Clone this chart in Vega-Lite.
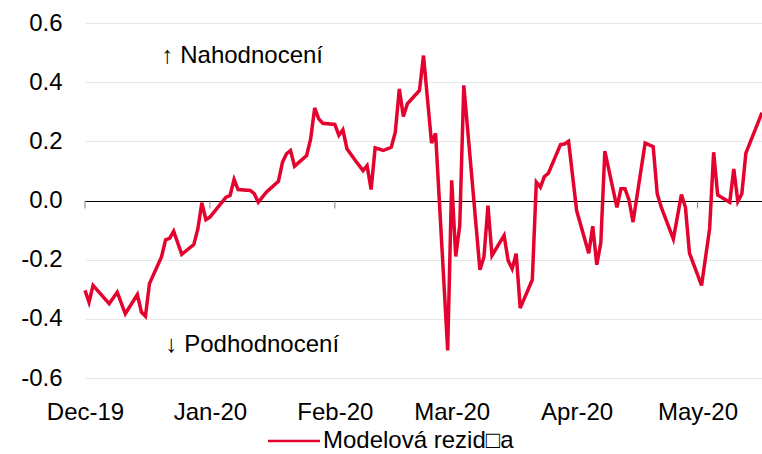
{
  "$schema": "https://vega.github.io/schema/vega-lite/v6.json",
  "width": 677,
  "height": 355,
  "autosize": {"type": "none"},
  "padding": {"left": 85, "top": 23, "right": 0, "bottom": 76},
  "config": {"font": "Liberation Sans", "view": {"stroke": null}},
  "datasets": {
    "series": [
      {"date": "2019-12-01", "value": -0.304},
      {"date": "2019-12-02", "value": -0.344},
      {"date": "2019-12-03", "value": -0.287},
      {"date": "2019-12-07", "value": -0.349},
      {"date": "2019-12-09", "value": -0.31},
      {"date": "2019-12-11", "value": -0.383},
      {"date": "2019-12-14", "value": -0.318},
      {"date": "2019-12-15", "value": -0.377},
      {"date": "2019-12-16", "value": -0.391},
      {"date": "2019-12-17", "value": -0.281},
      {"date": "2019-12-20", "value": -0.19},
      {"date": "2019-12-21", "value": -0.133},
      {"date": "2019-12-22", "value": -0.128},
      {"date": "2019-12-23", "value": -0.104},
      {"date": "2019-12-25", "value": -0.182},
      {"date": "2019-12-28", "value": -0.149},
      {"date": "2019-12-29", "value": -0.096},
      {"date": "2019-12-30", "value": -0.008},
      {"date": "2019-12-31", "value": -0.065},
      {"date": "2020-01-01", "value": -0.056},
      {"date": "2020-01-05", "value": 0.011},
      {"date": "2020-01-06", "value": 0.017},
      {"date": "2020-01-07", "value": 0.071},
      {"date": "2020-01-08", "value": 0.037},
      {"date": "2020-01-11", "value": 0.034},
      {"date": "2020-01-12", "value": 0.023},
      {"date": "2020-01-13", "value": -0.006},
      {"date": "2020-01-15", "value": 0.028},
      {"date": "2020-01-18", "value": 0.065},
      {"date": "2020-01-19", "value": 0.129},
      {"date": "2020-01-20", "value": 0.158},
      {"date": "2020-01-21", "value": 0.169},
      {"date": "2020-01-22", "value": 0.116},
      {"date": "2020-01-25", "value": 0.152},
      {"date": "2020-01-26", "value": 0.208},
      {"date": "2020-01-27", "value": 0.313},
      {"date": "2020-01-28", "value": 0.276},
      {"date": "2020-01-29", "value": 0.261},
      {"date": "2020-02-01", "value": 0.257},
      {"date": "2020-02-02", "value": 0.22},
      {"date": "2020-02-03", "value": 0.239},
      {"date": "2020-02-04", "value": 0.175},
      {"date": "2020-02-06", "value": 0.137},
      {"date": "2020-02-08", "value": 0.101},
      {"date": "2020-02-09", "value": 0.118},
      {"date": "2020-02-10", "value": 0.037},
      {"date": "2020-02-11", "value": 0.178},
      {"date": "2020-02-13", "value": 0.169},
      {"date": "2020-02-15", "value": 0.18},
      {"date": "2020-02-16", "value": 0.231},
      {"date": "2020-02-17", "value": 0.377},
      {"date": "2020-02-18", "value": 0.284},
      {"date": "2020-02-19", "value": 0.327},
      {"date": "2020-02-22", "value": 0.372},
      {"date": "2020-02-23", "value": 0.49},
      {"date": "2020-02-25", "value": 0.194},
      {"date": "2020-02-26", "value": 0.227},
      {"date": "2020-02-29", "value": -0.507},
      {"date": "2020-03-01", "value": 0.068},
      {"date": "2020-03-02", "value": -0.189},
      {"date": "2020-03-03", "value": -0.084},
      {"date": "2020-03-04", "value": 0.389},
      {"date": "2020-03-08", "value": -0.234},
      {"date": "2020-03-09", "value": -0.191},
      {"date": "2020-03-10", "value": -0.017},
      {"date": "2020-03-11", "value": -0.186},
      {"date": "2020-03-14", "value": -0.118},
      {"date": "2020-03-15", "value": -0.203},
      {"date": "2020-03-16", "value": -0.231},
      {"date": "2020-03-17", "value": -0.18},
      {"date": "2020-03-18", "value": -0.364},
      {"date": "2020-03-21", "value": -0.268},
      {"date": "2020-03-22", "value": 0.062},
      {"date": "2020-03-23", "value": 0.045},
      {"date": "2020-03-24", "value": 0.081},
      {"date": "2020-03-25", "value": 0.092},
      {"date": "2020-03-28", "value": 0.189},
      {"date": "2020-03-29", "value": 0.191},
      {"date": "2020-03-30", "value": 0.2},
      {"date": "2020-04-01", "value": -0.034},
      {"date": "2020-04-04", "value": -0.178},
      {"date": "2020-04-05", "value": -0.087},
      {"date": "2020-04-06", "value": -0.217},
      {"date": "2020-04-07", "value": -0.143},
      {"date": "2020-04-08", "value": 0.167},
      {"date": "2020-04-11", "value": -0.023},
      {"date": "2020-04-12", "value": 0.04},
      {"date": "2020-04-13", "value": 0.04},
      {"date": "2020-04-14", "value": 0.002},
      {"date": "2020-04-15", "value": -0.073},
      {"date": "2020-04-18", "value": 0.194},
      {"date": "2020-04-20", "value": 0.182},
      {"date": "2020-04-21", "value": 0.023},
      {"date": "2020-04-22", "value": -0.023},
      {"date": "2020-04-25", "value": -0.13},
      {"date": "2020-04-27", "value": 0.02},
      {"date": "2020-04-28", "value": -0.023},
      {"date": "2020-04-29", "value": -0.178},
      {"date": "2020-05-02", "value": -0.287},
      {"date": "2020-05-04", "value": -0.096},
      {"date": "2020-05-05", "value": 0.163},
      {"date": "2020-05-06", "value": 0.019},
      {"date": "2020-05-09", "value": -0.006},
      {"date": "2020-05-10", "value": 0.107},
      {"date": "2020-05-11", "value": -0.003},
      {"date": "2020-05-12", "value": 0.023},
      {"date": "2020-05-13", "value": 0.16},
      {"date": "2020-05-17", "value": 0.297}
    ],
    "ticks": [
      {"date": "2019-12-01"},
      {"date": "2020-01-01"},
      {"date": "2020-02-01"},
      {"date": "2020-03-01"},
      {"date": "2020-04-01"},
      {"date": "2020-05-01"}
    ],
    "notes": [
      {"date": "2019-12-20", "value": 0.49, "label": "↑ Nahodnocení"},
      {"date": "2019-12-21", "value": -0.49, "label": "↓ Podhodnocení"}
    ]
  },
  "encoding": {
    "x": {
      "field": "date",
      "type": "temporal",
      "scale": {
        "type": "utc",
        "domain": [
          {"year": 2019, "month": 12, "date": 1, "utc": true},
          {"year": 2020, "month": 5, "date": 17, "utc": true}
        ]
      },
      "axis": {
        "title": null,
        "labelExpr": "utcFormat(datum.value, '%b-%y')",
        "tickCount": "month",
        "grid": false,
        "domain": false,
        "ticks": false,
        "labelFontSize": 24,
        "labelPadding": 22,
        "labelColor": "black",
        "labelFlush": false,
        "labelOverlap": false
      }
    }
  },
  "layer": [
    {
      "data": {"name": "ticks"},
      "mark": {"type": "rule", "color": "#808080", "strokeWidth": 1},
      "encoding": {
        "y": {"datum": 0, "type": "quantitative"},
        "y2": {"datum": -0.027}
      }
    },
    {
      "data": {"name": "series"},
      "mark": {"type": "line", "strokeWidth": 3.5},
      "encoding": {
        "y": {
          "field": "value",
          "type": "quantitative",
          "scale": {"domain": [-0.6, 0.6], "nice": false, "zero": false},
          "axis": {
            "title": null,
            "values": [-0.6, -0.4, -0.2, 0, 0.2, 0.4, 0.6],
            "labelExpr": "replace(format(datum.value, '.1f'), '\u2212', '-')",
            "grid": true,
            "gridColor": {"condition": {"test": "datum.value === 0", "value": "black"}, "value": "#e6e6e6"},
            "domain": false,
            "ticks": false,
            "labelFontSize": 24,
            "labelPadding": 23,
            "labelColor": "black"
          }
        },
        "color": {
          "datum": "Modelová rezid□a",
          "scale": {"range": ["#E4032E"]},
          "legend": {
            "title": null,
            "orient": "none",
            "legendX": 197,
            "legendY": 406,
            "symbolType": "M-4,0H4",
            "symbolSize": 169,
            "symbolStrokeWidth": 2.5,
            "labelFontSize": 24,
            "labelColor": "black",
            "labelOffset": 17,
            "labelLimit": 0,
            "padding": 0
          }
        }
      }
    },
    {
      "data": {"name": "notes"},
      "mark": {"type": "text", "align": "left", "baseline": "middle", "fontSize": 24, "color": "black"},
      "encoding": {
        "y": {"field": "value", "type": "quantitative"},
        "text": {"field": "label"}
      }
    }
  ]
}
